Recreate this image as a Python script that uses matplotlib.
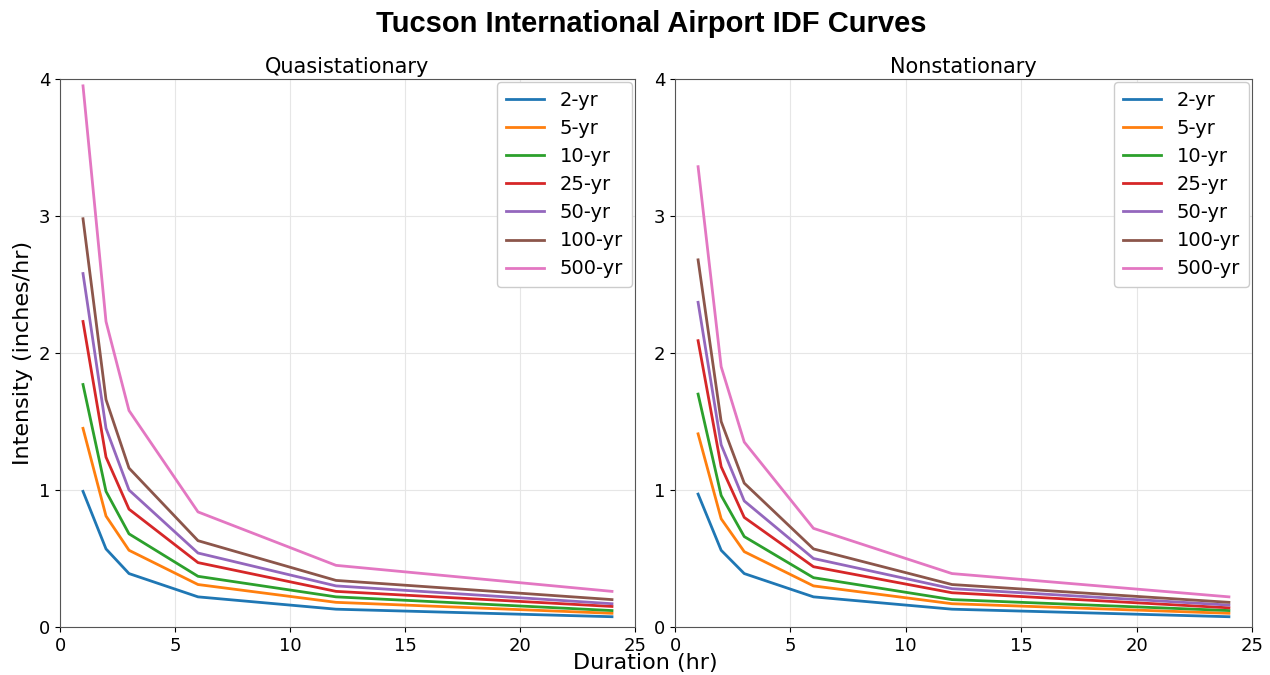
import matplotlib
matplotlib.use("Agg")
import matplotlib.pyplot as plt

durations = [1, 2, 3, 6, 12, 24]
labels = ["2-yr", "5-yr", "10-yr", "25-yr", "50-yr", "100-yr", "500-yr"]

quasi_2 = [0.99, 0.57, 0.39, 0.22, 0.13, 0.075]
quasi_5 = [1.45, 0.81, 0.56, 0.31, 0.18, 0.10]
quasi_10 = [1.77, 0.99, 0.68, 0.37, 0.22, 0.12]
quasi_25 = [2.23, 1.24, 0.86, 0.47, 0.26, 0.15]
quasi_50 = [2.58, 1.45, 1.00, 0.54, 0.30, 0.17]
quasi_100 = [2.98, 1.66, 1.16, 0.63, 0.34, 0.20]
quasi_500 = [3.95, 2.23, 1.58, 0.84, 0.45, 0.26]

non_2 = [0.97, 0.56, 0.39, 0.22, 0.13, 0.075]
non_5 = [1.41, 0.79, 0.55, 0.30, 0.17, 0.10]
non_10 = [1.70, 0.96, 0.66, 0.36, 0.20, 0.12]
non_25 = [2.09, 1.17, 0.80, 0.44, 0.25, 0.14]
non_50 = [2.37, 1.33, 0.92, 0.50, 0.28, 0.16]
non_100 = [2.68, 1.50, 1.05, 0.57, 0.31, 0.18]
non_500 = [3.36, 1.90, 1.35, 0.72, 0.39, 0.22]

quasi = [quasi_2, quasi_5, quasi_10, quasi_25, quasi_50, quasi_100, quasi_500]
non = [non_2, non_5, non_10, non_25, non_50, non_100, non_500]
colors = ["#1f77b4", "#ff7f0e", "#2ca02c", "#d62728", "#9467bd", "#8c564b", "#e377c2"]

fig = plt.figure(figsize=(12.7, 6.75), dpi=100)
ax1 = fig.add_axes([60/1270, 1-627/675, 575/1270, 548/675])
ax2 = fig.add_axes([675/1270, 1-627/675, 577/1270, 548/675])

for ax, data, title in [(ax1, quasi, "Quasistationary"), (ax2, non, "Nonstationary")]:
    for lab, vals, c in zip(labels, data, colors):
        ax.plot(durations, vals, color=c, lw=2, label=lab)
    ax.set_xlim(0, 25)
    ax.set_ylim(0, 4)
    ax.set_xticks([0, 5, 10, 15, 20, 25])
    ax.set_yticks([0, 1, 2, 3, 4])
    ax.grid(True, color="#e6e6e6", lw=0.8)
    ax.tick_params(labelsize=13)
    ax.set_title(title, fontsize=15, pad=4)
    for s in ax.spines.values():
        s.set_color("#555555")
    ax.legend(loc="upper right", fontsize=14, handlelength=2.0, labelspacing=0.47,
              borderpad=0.45, borderaxespad=0.15, framealpha=1, edgecolor="#cccccc")

ax1.set_ylabel("Intensity (inches/hr)", fontsize=16)
fig.text(0.508, 0.018, "Duration (hr)", ha="center", va="center", fontsize=16)
fig.suptitle("Tucson International Airport IDF Curves", fontsize=21, fontweight="bold",
             family="Liberation Sans", x=0.513, y=0.985)

fig.savefig("out.png", dpi=100)
